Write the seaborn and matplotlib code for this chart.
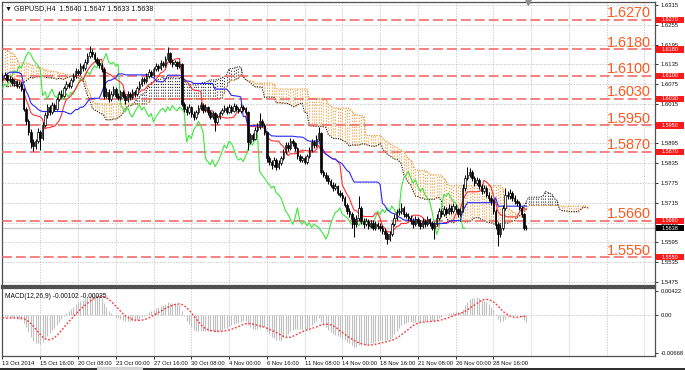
import numpy as np
import pandas as pd
import matplotlib
matplotlib.use("Agg")
import matplotlib.pyplot as plt
import matplotlib.transforms as mtransforms
from matplotlib.patches import Rectangle
import seaborn as sns

sns.set_style("white")
plt.rcParams["font.family"] = ["Liberation Sans", "DejaVu Sans"]

# ---------------- data (prices in pips above 1.5000) ----------------
hist_first_open = 1320
hist_close = [1330, 1345, 1360, 1350, 1340, 1335, 1310, 1280, 1275, 1270, 1282, 1278,
              1270, 1260, 1265, 1250, 1255, 1245, 1240, 1230, 1235, 1225, 1220, 1230,
              1215, 1210, 1220, 1205, 1200, 1210, 1200, 1190, 1195, 1180, 1185, 1175,
              1170, 1160, 1165, 1150, 1155, 1140, 1130, 1110, 1090, 1030, 1000, 1010,
              1020, 1005, 1030, 1040, 1035, 1050, 1060, 1075, 1070, 1085, 1095, 1090,
              1100, 1110, 1125, 1140, 1150, 1145, 1135, 1120, 1110, 1100, 1085, 1080,
              1075, 1070, 1085, 1095, 1088, 1090]
hist_high = [1340, 1352, 1370, 1366, 1356, 1348, 1340, 1316, 1286, 1282, 1288, 1288,
             1284, 1276, 1272, 1270, 1262, 1260, 1252, 1246, 1242, 1240, 1232, 1236,
             1234, 1222, 1226, 1224, 1212, 1216, 1214, 1206, 1202, 1198, 1192, 1190,
             1182, 1176, 1172, 1170, 1162, 1160, 1146, 1136, 1116, 1096, 1036, 1018,
             1028, 1026, 1036, 1048, 1046, 1058, 1068, 1082, 1082, 1092, 1102, 1102,
             1108, 1118, 1132, 1148, 1158, 1156, 1150, 1140, 1126, 1116, 1104, 1090,
             1086, 1080, 1092, 1102, 1100, 1098]
hist_low = [1314, 1326, 1340, 1344, 1334, 1328, 1302, 1272, 1268, 1262, 1264, 1270,
            1262, 1252, 1254, 1244, 1244, 1238, 1232, 1224, 1224, 1218, 1212, 1214,
            1208, 1202, 1204, 1198, 1192, 1194, 1194, 1184, 1184, 1172, 1174, 1168,
            1162, 1152, 1154, 1142, 1144, 1132, 1122, 1102, 1082, 1020, 990, 992,
            1002, 998, 1000, 1024, 1028, 1030, 1044, 1054, 1064, 1064, 1078, 1084,
            1084, 1094, 1104, 1120, 1134, 1138, 1128, 1114, 1102, 1094, 1078, 1072,
            1068, 1064, 1066, 1080, 1082, 1082]

close_pips = [1095, 1102, 1088, 1092, 1078, 1083, 1070, 1076, 1060, 1000,
              962, 930, 900, 886, 902, 930, 912, 952, 980, 1005,
              990, 1012, 1000, 1030, 1046, 1040, 1062, 1075, 1070, 1086,
              1100, 1116, 1110, 1130, 1124, 1142, 1160, 1172, 1165, 1150,
              1140, 1132, 1120, 1040, 1052, 1030, 1046, 1060, 1040, 1034,
              1050, 1040, 1028, 1046, 1036, 1050, 1044, 1062, 1076, 1090,
              1084, 1100, 1112, 1104, 1120, 1131, 1124, 1140, 1134, 1152,
              1168, 1142, 1136, 1141, 1130, 1136, 1015, 1000, 990, 1006,
              985, 975, 990, 1002, 1012, 996, 1006, 990, 976, 986,
              960, 976, 986, 996, 1002, 990, 1006, 995, 1010, 1000,
              994, 1006, 1000, 990, 900, 920, 910, 936, 946, 962,
              950, 930, 850, 840, 830, 846, 825, 836, 850, 870,
              890, 880, 902, 895, 880, 856, 845, 850, 840, 856,
              876, 900, 890, 910, 926, 810, 800, 790, 780, 770,
              760, 766, 745, 740, 730, 710, 690, 680, 665, 650,
              670, 700, 660, 650, 660, 645, 655, 640, 650, 645,
              640, 630, 620, 605, 620, 650, 670, 686, 690, 700,
              680, 676, 670, 660, 650, 665, 655, 645, 660, 650,
              665, 655, 640, 650, 670, 690, 680, 695, 685, 700,
              690, 705, 695, 680, 690, 760, 790, 800, 810, 790,
              775, 785, 765, 750, 760, 740, 730, 720, 690, 650,
              620, 640, 700, 740, 735, 745, 730, 720, 715, 700,
              680, 640, 638]
high_pips = [1108, 1112, 1106, 1100, 1097, 1092, 1088, 1084, 1080, 1064,
             1006, 968, 938, 910, 910, 942, 936, 960, 990, 1014,
             1012, 1020, 1018, 1036, 1054, 1056, 1070, 1084, 1082, 1094,
             1110, 1124, 1122, 1138, 1136, 1150, 1170, 1190, 1182, 1172,
             1158, 1150, 1140, 1126, 1062, 1060, 1054, 1070, 1066, 1048,
             1058, 1056, 1046, 1054, 1052, 1060, 1058, 1070, 1084, 1098,
             1096, 1108, 1120, 1118, 1128, 1140, 1136, 1148, 1146, 1160,
             1188, 1172, 1150, 1148, 1146, 1144, 1140, 1022, 1008, 1014,
             1010, 992, 998, 1012, 1022, 1018, 1014, 1010, 996, 994,
             990, 984, 994, 1004, 1012, 1008, 1014, 1012, 1018, 1016,
             1006, 1014, 1012, 1006, 994, 928, 926, 944, 956, 988,
             968, 956, 934, 856, 846, 854, 850, 844, 858, 878,
             900, 898, 912, 910, 900, 884, 862, 858, 856, 864,
             884, 908, 906, 920, 944, 930, 816, 808, 798, 788,
             778, 774, 770, 754, 748, 736, 716, 698, 688, 672,
             678, 735, 706, 668, 670, 666, 664, 662, 660, 658,
             654, 648, 638, 626, 630, 658, 680, 696, 700, 715,
             706, 688, 684, 678, 668, 674, 672, 662, 668, 666,
             674, 670, 660, 658, 680, 698, 696, 704, 702, 712,
             708, 716, 712, 700, 698, 772, 800, 825, 822, 816,
             796, 794, 790, 772, 768, 766, 748, 738, 726, 696,
             656, 650, 708, 760, 750, 756, 752, 738, 728, 722,
             706, 684, 647]
low_pips = [1084, 1090, 1082, 1080, 1072, 1070, 1064, 1062, 1054, 992,
            950, 922, 880, 872, 878, 896, 874, 906, 946, 972,
            982, 984, 992, 996, 1024, 1032, 1036, 1056, 1062, 1064,
            1080, 1094, 1102, 1104, 1116, 1118, 1136, 1154, 1156, 1142,
            1132, 1124, 1112, 1030, 1032, 1022, 1024, 1040, 1034, 1026,
            1028, 1032, 1016, 1022, 1028, 1030, 1036, 1040, 1056, 1070,
            1076, 1078, 1094, 1096, 1098, 1114, 1116, 1118, 1126, 1128,
            1146, 1136, 1128, 1130, 1122, 1124, 1008, 990, 980, 984,
            976, 966, 970, 984, 996, 988, 990, 982, 968, 970,
            932, 954, 970, 980, 990, 984, 986, 988, 990, 994,
            986, 988, 992, 984, 876, 894, 902, 906, 930, 940,
            944, 922, 840, 830, 818, 824, 816, 818, 830, 844,
            864, 872, 876, 886, 872, 848, 838, 838, 834, 834,
            850, 870, 882, 884, 904, 802, 792, 782, 772, 762,
            752, 754, 738, 732, 722, 702, 682, 672, 640, 612,
            642, 660, 650, 640, 644, 636, 638, 632, 634, 636,
            630, 620, 606, 590, 598, 614, 644, 664, 678, 682,
            672, 668, 660, 652, 640, 644, 646, 636, 638, 642,
            644, 646, 632, 606, 644, 664, 672, 674, 678, 680,
            682, 684, 688, 672, 674, 686, 752, 784, 794, 782,
            766, 768, 758, 742, 744, 732, 722, 710, 680, 636,
            585, 612, 634, 694, 726, 728, 722, 712, 706, 692,
            672, 634, 633]

level_values = [1.6270, 1.6180, 1.6100, 1.6030, 1.5950, 1.5870, 1.5660, 1.5550]
level_labels = ["1.6270", "1.6180", "1.6100", "1.6030", "1.5950", "1.5870", "1.5660", "1.5550"]
price_ticks = [1.5475, 1.5535, 1.5595, 1.5655, 1.5715, 1.5775, 1.5835, 1.5895,
               1.5955, 1.6015, 1.6075, 1.6135, 1.6195, 1.6255, 1.6315]
time_label_bars = [0, 16, 32, 48, 64, 80, 96, 112, 128, 144, 160, 176, 192, 208]
time_labels = ["13 Oct 2014", "15 Oct 16:00", "20 Oct 08:00", "23 Oct 00:00",
               "27 Oct 16:00", "30 Oct 08:00", "4 Nov 00:00", "6 Nov 16:00",
               "11 Nov 08:00", "14 Nov 00:00", "18 Nov 16:00", "21 Nov 08:00",
               "26 Nov 00:00", "28 Nov 16:00"]
last_price = 1.5638
title_text = "GBPUSD,H4  1.5640 1.5647 1.5633 1.5638"
macd_text = "MACD(12,26,9) -0.00102 -0.00035"
macd_ticks = [0.00422, 0.0, -0.00668]
macd_tick_labels = ["0.00422", "0.00", "-0.00668"]


def to_price(p):
    return 1.5 + np.asarray(p, dtype=float) / 10000.0


# ---------------- build frame ----------------
H = len(hist_close)
N = len(close_pips)
all_close = to_price(hist_close + close_pips)
all_high = to_price(hist_high + high_pips)
all_low = to_price(hist_low + low_pips)
all_open = np.concatenate([[to_price(hist_first_open)], all_close[:-1]])
bars = np.arange(-H, N)
df = pd.DataFrame({"bar": bars, "open": all_open, "high": all_high,
                   "low": all_low, "close": all_close})

# Ichimoku (9, 26, 52)
df["tenkan"] = (df.high.rolling(9).max() + df.low.rolling(9).min()) / 2
df["kijun"] = (df.high.rolling(26).max() + df.low.rolling(26).min()) / 2
span_a = (df.tenkan + df.kijun) / 2
span_b = (df.high.rolling(52).max() + df.low.rolling(52).min()) / 2
cloud = pd.DataFrame({"bar": df.bar + 26, "a": span_a, "b": span_b}).dropna()
cloud = cloud[cloud.bar >= 0]
chikou = pd.DataFrame({"bar": df.bar - 26, "v": df.close})
chikou = chikou[chikou.bar >= 0]

# MACD (12, 26, 9) - MT4 style: main histogram, SMA signal
ema12 = df.close.ewm(span=12, adjust=False).mean()
ema26 = df.close.ewm(span=26, adjust=False).mean()
df["macd"] = ema12 - ema26
df["signal"] = df.macd.rolling(9).mean()

w = df[df.bar >= 0].reset_index(drop=True)

# ---------------- figure ----------------
W, Hp = 685, 370
fig = plt.figure(figsize=(W / 100, Hp / 100), dpi=100)
fig.patch.set_facecolor("white")
ax = fig.add_axes([2 / W, 1 - 286 / Hp, 653 / W, 284 / Hp])
ax2 = fig.add_axes([2 / W, 1 - 356 / Hp, 653 / W, 68 / Hp], sharex=ax)

XMIN, XMAX = -0.2, 276.5
YMIN, YMAX = 1.54629, 1.6324
ax.set_xlim(XMIN, XMAX)
ax.set_ylim(YMIN, YMAX)
px_price = (YMAX - YMIN) / 284.0

grid_kw = dict(color="#c4c4c4", lw=0.6, ls=(0, (1.6, 1.6)))
for t in price_ticks:
    ax.axhline(t, zorder=0, **grid_kw)
for b in time_label_bars[1:] + [224, 240, 256, 272]:
    ax.axvline(b, zorder=0, **grid_kw)
    ax2.axvline(b, zorder=0, **grid_kw)

# cloud: dotted vertical hatching per bar
bear = cloud[cloud.b > cloud.a]
bull = cloud[cloud.b <= cloud.a]
ax.vlines(bear.bar, bear.a, bear.b, colors="#f5a040", lw=0.85,
          linestyles=(0, (1.0, 1.5)), zorder=1)
ax.vlines(bull.bar, bull.b, bull.a, colors="#303030", lw=0.8,
          linestyles=(0, (1.0, 1.6)), zorder=1)
sns.lineplot(x=cloud.bar.values, y=cloud.b.values, ax=ax, color="#f08a20",
             lw=0.8, linestyle=(0, (1.0, 1.2)), estimator=None, zorder=2)
sns.lineplot(x=cloud.bar.values, y=cloud.a.values, ax=ax, color="#202020",
             lw=0.8, linestyle=(0, (1.0, 1.2)), estimator=None, zorder=2)

# horizontal levels
trans_r = mtransforms.blended_transform_factory(ax.transAxes, ax.transData)
for v, lab in zip(level_values, level_labels):
    ax.axhline(v, color="#f26060", lw=1.1, ls=(0, (6.5, 2.6)), zorder=3)
    ax.text(0.9265, v + 0.0008, lab, transform=trans_r, color="#ff5a1e",
            fontsize=10.4, va="baseline", ha="left", zorder=6)
ax.axhline(last_price, color="#c8c8c8", lw=1.0, zorder=1)

# chikou, tenkan, kijun
sns.lineplot(x=chikou.bar.values, y=chikou.v.values, ax=ax, color="#3ce63c",
             lw=0.8, estimator=None, zorder=4)
sns.lineplot(x=w.bar.values, y=w.tenkan.values, ax=ax, color="#ff3030",
             lw=0.8, estimator=None, zorder=4)
sns.lineplot(x=w.bar.values, y=w.kijun.values, ax=ax, color="#2828ff",
             lw=0.8, estimator=None, zorder=4)

# candles
ax.vlines(w.bar, w.low, w.high, colors="black", lw=0.75, zorder=5)
body_lo = np.minimum(w.open, w.close)
body_h = np.maximum(np.abs(w.close - w.open), 0.00004)
face = np.where(w.close >= w.open, "white", "black")
ax.bar(w.bar, body_h, bottom=body_lo, width=0.64, color=face,
       edgecolor="black", linewidth=0.5, zorder=5)

# right axis
TICK_FS = 4.2
ax.yaxis.tick_right()
ax.set_yticks(price_ticks)
ax.set_yticklabels([f"{t:.4f}" for t in price_ticks])
ax.tick_params(axis="y", labelsize=TICK_FS, length=2.5, width=0.6, pad=1.5,
               colors="#111111", right=True, left=False)
ax.tick_params(axis="x", bottom=False, labelbottom=False, length=0)


def tag(v, text, fc):
    ax.add_patch(Rectangle((1.0015, v - 3.2 * px_price), 0.0435, 6.4 * px_price,
                           transform=trans_r, facecolor=fc, edgecolor="none",
                           clip_on=False, zorder=9))
    ax.text(1.0015 + 0.0435 / 2, v, text, transform=trans_r, color="white",
            fontsize=TICK_FS - 0.2, va="center", ha="center", zorder=10,
            clip_on=False)


for v, lab in zip(level_values, level_labels):
    tag(v, lab, "#ff1a1a")
tag(last_price, f"{last_price:.4f}", "black")

ax.text(0.004, 0.991, "\u25BC " + title_text, transform=ax.transAxes,
        fontsize=5.1, va="top", ha="left", color="#111111", zorder=10)
ax.plot([222.5], [YMAX], marker="v", ms=4, color="#909090", clip_on=False, zorder=10)

for s in ax.spines.values():
    s.set_color("#505050")
    s.set_linewidth(0.9)
ax.spines["bottom"].set_linewidth(1.6)

# ---------------- MACD panel ----------------
ax2.set_ylim(-0.00721, 0.00475)
ax2.vlines(w.bar, 0, w.macd, colors="#c0c0c0", lw=0.8, zorder=2)
sns.lineplot(x=w.bar.values, y=w.signal.values, ax=ax2, color="#ff3838",
             lw=1.0, linestyle=(0, (1.3, 1.3)), estimator=None, zorder=3)
ax2.axhline(0, zorder=0, **grid_kw)
ax2.yaxis.tick_right()
ax2.set_yticks(macd_ticks)
ax2.set_yticklabels(macd_tick_labels)
ax2.tick_params(axis="y", labelsize=TICK_FS, length=2.5, width=0.6, pad=1.5,
                colors="#111111", right=True, left=False)
ax2.set_xticks(time_label_bars)
ax2.set_xticklabels(time_labels)
ax2.tick_params(axis="x", labelsize=TICK_FS, length=2.5, width=0.6, pad=1.0,
                colors="#111111", bottom=True)
for lbl in ax2.get_xticklabels():
    lbl.set_ha("left")
ax2.text(0.004, 0.93, macd_text, transform=ax2.transAxes, fontsize=4.8,
         va="top", ha="left", color="#111111")
for s in ax2.spines.values():
    s.set_color("#505050")
    s.set_linewidth(0.9)
ax2.spines["top"].set_linewidth(1.6)
ax.set_xlim(XMIN, XMAX)
ax.set_xlabel("")
ax.set_ylabel("")
ax2.set_xlabel("")
ax2.set_ylabel("")

# bottom tab strip
fig.add_artist(Rectangle((0, 0), 1, 2 / Hp, transform=fig.transFigure,
                         facecolor="#303030", edgecolor="none"))
fig.add_artist(Rectangle((97 / W, 0), 46 / W, 3 / Hp, transform=fig.transFigure,
                         facecolor="#d4d4d4", edgecolor="none"))

fig.savefig("out.png", dpi=100)
